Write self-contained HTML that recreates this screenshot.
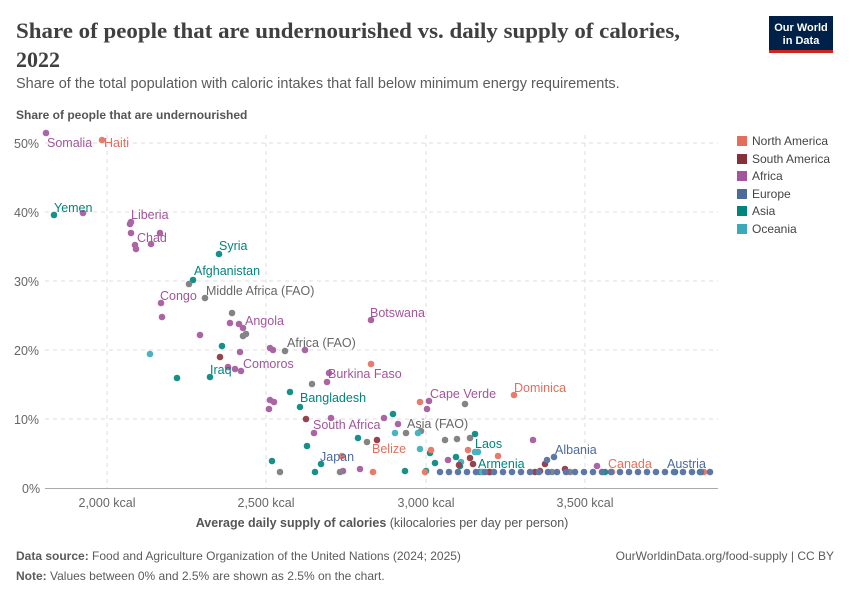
<!DOCTYPE html>
<html><head><meta charset="utf-8"><style>
body{margin:0;background:#fff;width:850px;height:600px;overflow:hidden;font-family:"Liberation Sans",sans-serif}
</style></head><body>
<svg width="850" height="600" xmlns="http://www.w3.org/2000/svg" font-family="Liberation Sans, sans-serif">
<text x="16" y="38" font-family="Liberation Serif, serif" font-size="22" font-weight="bold" fill="#404040" textLength="664" lengthAdjust="spacingAndGlyphs">Share of people that are undernourished vs. daily supply of calories,</text>
<text x="16" y="67" font-family="Liberation Serif, serif" font-size="22" font-weight="bold" fill="#404040">2022</text>
<text x="16" y="88" font-size="14.5" fill="#5b5b5b">Share of the total population with caloric intakes that fall below minimum energy requirements.</text>
<rect x="769" y="16" width="64" height="34" fill="#002147"/><rect x="769" y="50" width="64" height="3" fill="#ce261e"/>
<text x="801" y="31" font-size="11" font-weight="bold" fill="#fff" text-anchor="middle">Our World</text>
<text x="801" y="44" font-size="11" font-weight="bold" fill="#fff" text-anchor="middle">in Data</text>
<text x="16" y="119" font-size="12" font-weight="bold" fill="#555">Share of people that are undernourished</text>
<g stroke="#ddd" stroke-dasharray="4,4" stroke-width="1">
<line x1="45" x2="718" y1="143" y2="143"/><line x1="45" x2="718" y1="212" y2="212"/><line x1="45" x2="718" y1="281" y2="281"/><line x1="45" x2="718" y1="350" y2="350"/><line x1="45" x2="718" y1="419" y2="419"/>
<line x1="107" x2="107" y1="135" y2="488"/><line x1="266" x2="266" y1="135" y2="488"/><line x1="426" x2="426" y1="135" y2="488"/><line x1="585" x2="585" y1="135" y2="488"/>
</g>
<line x1="45" x2="718" y1="488.5" y2="488.5" stroke="#aaa"/>
<g font-size="12.5" fill="#666">
<text x="14" y="148">50%</text><text x="14" y="217">40%</text><text x="14" y="286">30%</text><text x="14" y="355">20%</text><text x="14" y="424">10%</text><text x="22" y="493">0%</text>
</g>
<g font-size="12.5" fill="#666" text-anchor="middle">
<text x="107" y="507">2,000 kcal</text><text x="266" y="507">2,500 kcal</text><text x="426" y="507">3,000 kcal</text><text x="585" y="507">3,500 kcal</text>
</g>
<text x="382" y="527" font-size="12.5" fill="#555" text-anchor="middle"><tspan font-weight="bold">Average daily supply of calories</tspan> (kilocalories per day per person)</text>
<g id="pts" opacity="0.9"></g>
<g font-size="12.5">
<text x="47" y="147" fill="#a2559c">Somalia</text><text x="104" y="147" fill="#e56e5a">Haiti</text>
<text x="54" y="212" fill="#00847e">Yemen</text><text x="131" y="219" fill="#a2559c">Liberia</text><text x="137" y="242" fill="#a2559c">Chad</text>
<text x="219" y="250" fill="#00847e">Syria</text><text x="194" y="275" fill="#00847e">Afghanistan</text>
<text x="160" y="300" fill="#a2559c">Congo</text><text x="206" y="295" fill="#666">Middle Africa (FAO)</text>
<text x="370" y="317" fill="#a2559c">Botswana</text><text x="245" y="325" fill="#a2559c">Angola</text>
<text x="287" y="347" fill="#666">Africa (FAO)</text><text x="210" y="374" fill="#00847e">Iraq</text><text x="243" y="368" fill="#a2559c">Comoros</text>
<text x="328" y="378" fill="#a2559c">Burkina Faso</text><text x="300" y="402" fill="#00847e">Bangladesh</text>
<text x="430" y="398" fill="#a2559c">Cape Verde</text><text x="514" y="392" fill="#e56e5a">Dominica</text>
<text x="407" y="428" fill="#666">Asia (FAO)</text><text x="313" y="429" fill="#a2559c">South Africa</text>
<text x="475" y="448" fill="#00847e">Laos</text><text x="555" y="454" fill="#4c6a9c">Albania</text>
<text x="372" y="453" fill="#e56e5a">Belize</text><text x="320" y="461" fill="#4c6a9c">Japan</text>
<text x="478" y="468" fill="#00847e">Armenia</text><text x="608" y="468" fill="#e56e5a">Canada</text><text x="667" y="468" fill="#4c6a9c">Austria</text>
</g>
<g font-size="12" fill="#444">
<rect x="737" y="136" width="10" height="10" fill="#e56e5a"/><text x="752" y="145">North America</text>
<rect x="737" y="154" width="10" height="10" fill="#883039"/><text x="752" y="163">South America</text>
<rect x="737" y="171" width="10" height="10" fill="#a2559c"/><text x="752" y="180">Africa</text>
<rect x="737" y="189" width="10" height="10" fill="#4c6a9c"/><text x="752" y="198">Europe</text>
<rect x="737" y="206" width="10" height="10" fill="#00847e"/><text x="752" y="215">Asia</text>
<rect x="737" y="224" width="10" height="10" fill="#38aaba"/><text x="752" y="233">Oceania</text>
</g>
<text x="16" y="560" font-size="12" fill="#5b5b5b"><tspan font-weight="bold">Data source:</tspan> Food and Agriculture Organization of the United Nations (2024; 2025)</text>
<text x="834" y="560" font-size="12" fill="#5b5b5b" text-anchor="end">OurWorldinData.org/food-supply | CC BY</text>
<text x="16" y="580" font-size="12" fill="#5b5b5b"><tspan font-weight="bold">Note:</tspan> Values between 0% and 2.5% are shown as 2.5% on the chart.</text>
</svg>
<script>
var d={"#a2559c":[[46,133],[83,213],[130,224],[131,222],[131,233],[136,249],[135,245],[151,244],[160,233],[161,303],[162,317],[200,335],[230,323],[240,352],[228,367],[239,324],[243,328],[241,371],[269,409],[270,400],[274,402],[273,350],[371,320],[305,350],[327,382],[331,418],[314,433],[329,373],[384,418],[398,424],[429,401],[427,409],[448,460],[360,469],[343,471],[533,440],[597,466],[235,369],[270,348]],
"#00847e":[[54,215],[219,254],[193,280],[222,346],[210,377],[177,378],[290,392],[300,407],[272,461],[307,446],[321,464],[358,438],[393,414],[405,471],[426,471],[435,463],[456,457],[460,466],[475,434],[315,472],[430,453],[480,472],[605,472],[675,472],[700,472]],
"#777":[[189,284],[205,298],[232,313],[246,334],[243,336],[285,351],[312,384],[465,404],[367,442],[421,431],[406,433],[457,439],[470,438],[280,472],[340,472],[445,440],[552,472],[570,472]],
"#38aaba":[[150,354],[418,433],[420,449],[461,462],[475,452],[483,472],[395,433],[478,452],[482,472]],
"#e56e5a":[[102,140],[420,402],[514,395],[468,450],[431,450],[371,364],[498,456],[373,472],[612,472],[704,472],[342,456],[425,472]],
"#883039":[[220,357],[377,440],[306,419],[470,458],[459,465],[473,464],[545,464],[540,471],[489,472],[535,472],[490,472],[565,469]]};
var eu=[[554,457],[547,460]];for(var x=440;x<=718;x+=7+((x*7)%9)){eu.push([x,472]);}
d["#4c6a9c"]=eu;
var g=document.getElementById("pts"),s="";
for(var c in d)d[c].forEach(function(p){s+='<circle cx="'+p[0]+'" cy="'+p[1]+'" r="3.3" fill="'+c+'"/>';});
g.innerHTML=s;
</script>
</body></html>
